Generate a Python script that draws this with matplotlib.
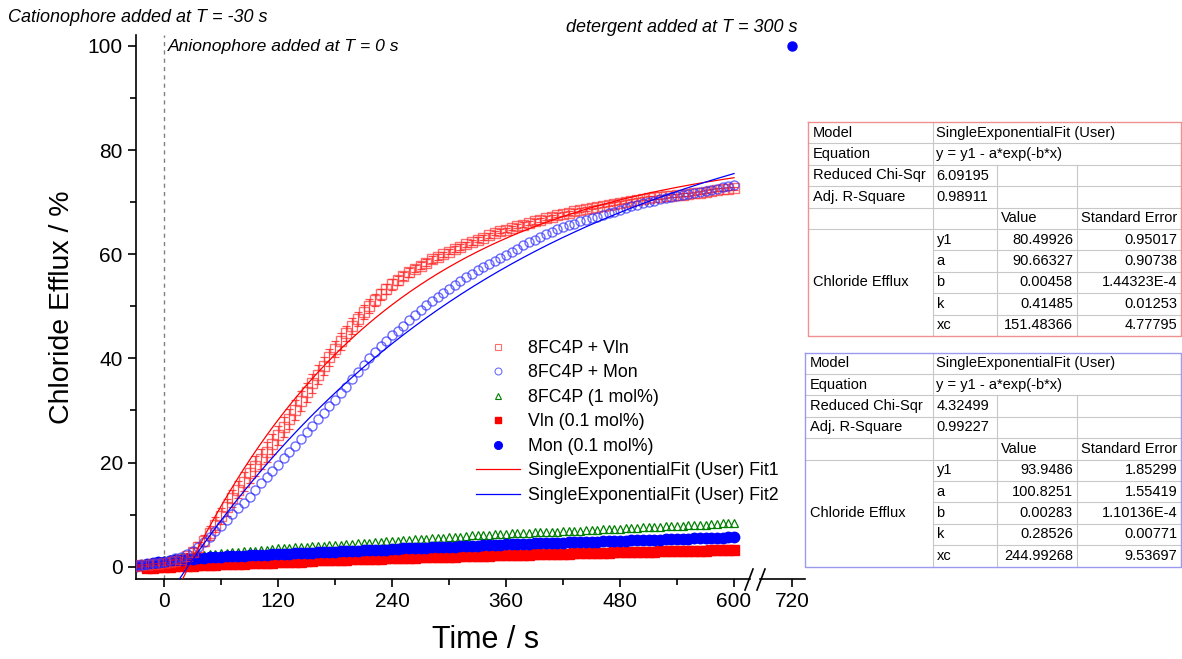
import numpy as np
import matplotlib.pyplot as plt
from matplotlib.lines import Line2D

plt.rcParams['font.family'] = ['Liberation Sans', 'DejaVu Sans']

W, H = 1182, 659

# readings every 6 s, first one at T = -30 s
t_start, t_step = -30, 6

vln_8fc4p = [0.2, 0.3, 0.4, 0.5, 0.6, 0.7, 0.9, 1.1, 1.4, 2.0,
             2.8, 3.8, 5.0, 6.5, 8.1, 9.7, 11.4, 13.1, 14.8, 16.3,
             17.9, 19.3, 20.7, 22.1, 23.6, 25.2, 26.8, 28.4, 30.1, 31.8,
             33.5, 35.2, 36.9, 38.6, 40.2, 41.8, 43.3, 44.8, 46.2, 47.6,
             48.9, 50.1, 51.2, 52.3, 53.3, 54.2, 55.0, 55.8, 56.5, 57.2,
             57.8, 58.4, 59.0, 59.5, 60.0, 60.5, 61.0, 61.4, 61.9, 62.3,
             62.8, 63.2, 63.6, 64.0, 64.4, 64.7, 65.1, 65.4, 65.7, 66.0,
             66.3, 66.6, 66.9, 67.2, 67.5, 67.8, 68.0, 68.3, 68.5, 68.7,
             68.9, 69.1, 69.3, 69.5, 69.7, 69.9, 70.1, 70.3, 70.5, 70.7,
             70.8, 70.9, 71.0, 71.1, 71.2, 71.3, 71.4, 71.5, 71.7, 71.8,
             72.0, 72.2, 72.4, 72.5, 72.6, 72.7]
vln_8fc4p_err = [0.2, 0.2, 0.2, 0.2, 0.2, 0.3, 0.3, 0.4, 0.5, 0.6,
                 0.8, 1.0, 1.1, 1.3, 1.4, 1.5, 1.6, 1.7, 1.7, 1.8,
                 1.8, 1.9, 1.9, 1.9, 1.9, 1.9, 1.9, 1.9, 1.9, 1.9,
                 1.8, 1.8, 1.8, 1.7, 1.7, 1.6, 1.6, 1.5, 1.5, 1.4,
                 1.3, 1.3, 1.2, 1.1, 1.0, 1.0, 0.9, 0.8, 0.8, 0.7,
                 0.7, 0.6, 0.6, 0.6, 0.5, 0.5, 0.5, 0.5, 0.5, 0.5,
                 0.5, 0.5, 0.4, 0.4, 0.4, 0.4, 0.4, 0.4, 0.4, 0.4,
                 0.4, 0.4, 0.4, 0.4, 0.4, 0.4, 0.4, 0.4, 0.3, 0.3,
                 0.3, 0.3, 0.3, 0.3, 0.3, 0.3, 0.3, 0.3, 0.3, 0.3,
                 0.3, 0.3, 0.3, 0.3, 0.3, 0.3, 0.3, 0.3, 0.3, 0.3,
                 0.3, 0.3, 0.3, 0.3, 0.3, 0.3]
mon_8fc4p = [0.3, 0.4, 0.5, 0.7, 0.8, 1.0, 1.3, 1.6, 1.9, 2.4,
             3.0, 3.8, 4.7, 5.7, 6.8, 7.9, 9.0, 10.1, 11.2, 12.3,
             13.4, 14.7, 16.0, 17.2, 18.4, 19.6, 20.8, 22.0, 23.2, 24.5,
             25.8, 27.1, 28.4, 29.6, 30.8, 32.0, 33.3, 34.6, 36.0, 37.4,
             38.8, 40.1, 41.3, 42.4, 43.4, 44.4, 45.3, 46.3, 47.3, 48.3,
             49.3, 50.2, 51.0, 51.8, 52.6, 53.4, 54.1, 54.9, 55.6, 56.3,
             56.9, 57.5, 58.1, 58.7, 59.3, 59.9, 60.5, 61.1, 61.7, 62.3,
             62.8, 63.3, 63.8, 64.3, 64.8, 65.2, 65.6, 65.9, 66.3, 66.6,
             66.9, 67.2, 67.6, 67.9, 68.2, 68.5, 68.8, 69.2, 69.5, 69.8,
             70.1, 70.3, 70.6, 70.8, 71.0, 71.2, 71.4, 71.5, 71.7, 71.9,
             72.1, 72.4, 72.6, 72.9, 73.1, 73.3]
fc4p_1 = [0.3, 0.5, 0.7, 0.9, 1.1, 1.3, 1.4, 1.6, 1.8, 1.9,
          2.1, 2.2, 2.3, 2.4, 2.5, 2.6, 2.7, 2.8, 2.9, 3.0,
          3.0, 3.1, 3.2, 3.3, 3.4, 3.5, 3.5, 3.6, 3.7, 3.8,
          3.8, 3.9, 4.0, 4.0, 4.1, 4.2, 4.2, 4.3, 4.4, 4.5,
          4.5, 4.6, 4.7, 4.8, 4.9, 5.0, 5.0, 5.1, 5.2, 5.3,
          5.3, 5.4, 5.5, 5.6, 5.6, 5.7, 5.8, 5.8, 5.9, 6.0,
          6.0, 6.1, 6.1, 6.2, 6.2, 6.3, 6.4, 6.4, 6.5, 6.5,
          6.6, 6.6, 6.7, 6.7, 6.7, 6.8, 6.8, 6.9, 6.9, 7.0,
          7.1, 7.1, 7.2, 7.2, 7.3, 7.3, 7.4, 7.5, 7.5, 7.6,
          7.6, 7.7, 7.7, 7.8, 7.8, 7.9, 7.9, 8.0, 8.0, 8.1,
          8.1, 8.2, 8.2, 8.3, 8.3, 8.4]
mon_01 = [0.1, 0.3, 0.5, 0.7, 0.9, 1.0, 1.1, 1.2, 1.3, 1.4,
          1.5, 1.6, 1.7, 1.8, 1.8, 1.9, 2.0, 2.0, 2.1, 2.1,
          2.2, 2.2, 2.3, 2.3, 2.4, 2.4, 2.5, 2.5, 2.6, 2.6,
          2.7, 2.7, 2.8, 2.8, 2.9, 2.9, 3.0, 3.0, 3.1, 3.1,
          3.2, 3.2, 3.2, 3.3, 3.3, 3.4, 3.4, 3.5, 3.5, 3.5,
          3.6, 3.6, 3.7, 3.7, 3.8, 3.8, 3.8, 3.9, 3.9, 4.0,
          4.0, 4.1, 4.1, 4.2, 4.2, 4.3, 4.3, 4.3, 4.4, 4.4,
          4.5, 4.5, 4.5, 4.6, 4.6, 4.6, 4.7, 4.7, 4.7, 4.8,
          4.8, 4.8, 4.9, 4.9, 5.0, 5.0, 5.0, 5.1, 5.1, 5.1,
          5.2, 5.2, 5.2, 5.3, 5.3, 5.3, 5.4, 5.4, 5.5, 5.5,
          5.5, 5.6, 5.6, 5.6, 5.7, 5.7]
# Vln (0.1 mol%) readings begin at T = -18 s
vln_01_start = -18
vln_01 = [-0.3, -0.2, -0.1, 0.0, 0.0, 0.1, 0.1, 0.2, 0.2, 0.3,
          0.3, 0.4, 0.4, 0.5, 0.5, 0.6, 0.6, 0.6, 0.7, 0.7,
          0.8, 0.8, 0.8, 0.9, 0.9, 0.9, 1.0, 1.0, 1.1, 1.1,
          1.2, 1.2, 1.2, 1.3, 1.3, 1.3, 1.4, 1.4, 1.4, 1.5,
          1.5, 1.5, 1.6, 1.6, 1.6, 1.7, 1.7, 1.7, 1.8, 1.8,
          1.8, 1.9, 1.9, 1.9, 1.9, 2.0, 2.0, 2.0, 2.1, 2.1,
          2.1, 2.2, 2.2, 2.2, 2.2, 2.3, 2.3, 2.3, 2.4, 2.4,
          2.4, 2.4, 2.5, 2.5, 2.5, 2.6, 2.6, 2.6, 2.6, 2.7,
          2.7, 2.7, 2.8, 2.8, 2.8, 2.8, 2.9, 2.9, 2.9, 2.9,
          3.0, 3.0, 3.0, 3.0, 3.0, 3.1, 3.1, 3.1, 3.1, 3.2,
          3.2, 3.2, 3.2, 3.2]

# detergent point
det_t = 720
det_y = 100

# fit results y = y1 - a*exp(-b*x)
fit_y1 = [80.49926, 93.9486]
fit_a = [90.66327, 100.8251]
fit_b = [0.00458, 0.00283]

legend_labels = ["8FC4P + Vln", "8FC4P + Mon", "8FC4P (1 mol%)", "Vln (0.1 mol%)",
                 "Mon (0.1 mol%)", "SingleExponentialFit (User) Fit1",
                 "SingleExponentialFit (User) Fit2"]

# fit report tables
tab_chi = ["6.09195", "4.32499"]
tab_adjr = ["0.98911", "0.99227"]
tab_params = ["y1", "a", "b", "k", "xc"]
tab_values = [["80.49926", "90.66327", "0.00458", "0.41485", "151.48366"],
              ["93.9486", "100.8251", "0.00283", "0.28526", "244.99268"]]
tab_errors = [["0.95017", "0.90738", "1.44323E-4", "0.01253", "4.77795"],
              ["1.85299", "1.55419", "1.10136E-4", "0.00771", "9.53697"]]


def tt(vals, start):
    return start + t_step * np.arange(len(vals))


def px(x0, y0, x1, y1):
    # rect from pixel box
    return [x0 / W, 1 - y1 / H, (x1 - x0) / W, (y1 - y0) / H]


fig = plt.figure(figsize=(W / 100, H / 100), dpi=100)
ax = fig.add_axes(px(136, 35, 750, 579))
ax2 = fig.add_axes(px(760, 35, 805, 579), sharey=ax)

red, blue, green = '#FF0000', '#0000FF', '#008000'

ax.axvline(0, color='#808080', ls=(0, (3, 3)), lw=1, zorder=1)

ax.plot(tt(vln_01, vln_01_start), vln_01, ls='none', marker='s', color=red, ms=7, zorder=2)
ax.plot(tt(fc4p_1, t_start), fc4p_1, ls='none', marker='^', mfc='none', mec=green,
        mew=0.9, ms=6, zorder=3)
ax.plot(tt(mon_01, t_start), mon_01, ls='none', marker='o', color=blue, ms=7.5, zorder=4)
ax.errorbar(tt(vln_8fc4p, t_start), vln_8fc4p, yerr=vln_8fc4p_err, fmt='none',
            ecolor=red, elinewidth=0.9, capsize=3, capthick=0.9, alpha=0.7, zorder=5)
ax.plot(tt(vln_8fc4p, t_start), vln_8fc4p, ls='none', marker='s', mfc='none', mec='#FF3030',
        mew=1.0, ms=6.5, alpha=0.7, zorder=5)
ax.plot(tt(mon_8fc4p, t_start), mon_8fc4p, ls='none', marker='o', mfc='none', mec='#3030FF',
        mew=1.0, ms=6.5, alpha=0.7, zorder=6)

tfit = np.linspace(-30, 600, 400)
for i, c in enumerate([red, blue]):
    ax.plot(tfit, fit_y1[i] - fit_a[i] * np.exp(-fit_b[i] * tfit), color=c, lw=0.9, zorder=7)

ax2.plot([det_t], [det_y], ls='none', marker='o', color=blue, ms=6.5, clip_on=False)

ax.set_xlim(-29.5, 616.8)
ax2.set_xlim(686.3, 733.7)
ax.set_ylim(-2.36, 102.1)
ax.set_xticks([0, 120, 240, 360, 480, 600])
ax.set_xticks([60, 180, 300, 420, 540], minor=True)
ax.set_yticks([0, 20, 40, 60, 80, 100])
ax.set_yticks([10, 30, 50, 70, 90], minor=True)
ax2.set_xticks([720])

for a in (ax, ax2):
    a.patch.set_visible(False)
    a.spines['top'].set_visible(False)
    a.spines['right'].set_visible(False)
    a.spines['bottom'].set_linewidth(1.2)
    a.tick_params(which='major', length=6, width=1.2, labelsize=15, direction='out')
    a.tick_params(which='minor', length=4, width=1.2, direction='out')
ax.spines['left'].set_linewidth(1.2)
ax2.spines['left'].set_visible(False)
ax2.tick_params(axis='y', which='both', left=False, labelleft=False)

handles = [
    Line2D([], [], ls='none', marker='s', mfc='none', mec='#FF3030', mew=0.8, ms=5, alpha=0.7),
    Line2D([], [], ls='none', marker='o', mfc='none', mec='#3030FF', mew=0.8, ms=5, alpha=0.7),
    Line2D([], [], ls='none', marker='^', mfc='none', mec=green, mew=0.8, ms=5),
    Line2D([], [], ls='none', marker='s', color=red, ms=5),
    Line2D([], [], ls='none', marker='o', color=blue, ms=5.5),
    Line2D([], [], color=red, lw=0.9),
    Line2D([], [], color=blue, lw=0.9),
]
ax.legend(handles, legend_labels, loc='upper left', bbox_to_anchor=(476 / W, 1 - 340 / H),
          bbox_transform=fig.transFigure, frameon=False, fontsize=12.8, borderpad=0,
          borderaxespad=0, handlelength=2.45, handletextpad=0.45, labelspacing=0.42)

# overlay in pixel coordinates for labels, notes, break marks and tables
ov = fig.add_axes([0, 0, 1, 1])
ov.set_xlim(0, W)
ov.set_ylim(H, 0)
ov.axis('off')
ov.patch.set_visible(False)

ov.text(62, 307, "Chloride Efflux / %", rotation=90, ha='center', va='center', fontsize=20.5)
ov.text(486, 640, "Time / s", ha='center', va='center', fontsize=22)
ov.text(8, 18, "Cationophore added at T = -30 s", ha='left', va='center', fontsize=13,
        style='italic')
ov.text(168, 47, "Anionophore added at T = 0 s", ha='left', va='center', fontsize=12.6,
        style='italic')
ov.text(797, 27, "detergent added at T = 300 s", ha='right', va='center', fontsize=13,
        style='italic')

for x0 in (745, 757):
    ov.plot([x0, x0 + 8], [590, 569], color='black', lw=1.2)


def draw_table(left, top, edge, k):
    rh = 21.4
    cols = [left, 932.5, 997, 1077, 1180.5]
    bottom = top + 10 * rh
    grid = dict(color='#C8C8C8', lw=0.8)
    for r in range(1, 10):
        y = top + r * rh
        x0 = left if r <= 5 else cols[1]
        ov.plot([x0, cols[-1]], [y, y], **grid)
    ov.plot([cols[1], cols[1]], [top, bottom], **grid)
    for c in cols[2:4]:
        ov.plot([c, c], [top + 2 * rh, bottom], **grid)
    ov.plot([left, cols[-1], cols[-1], left, left], [top, top, bottom, bottom, top],
            color=edge, lw=1.0)

    def cell(r, x, s, ha='left'):
        ov.text(x, top + (r + 0.5) * rh, s, ha=ha, va='center', fontsize=10.5)

    cell(0, left + 5, "Model")
    cell(1, left + 5, "Equation")
    cell(2, left + 5, "Reduced Chi-Sqr")
    cell(3, left + 5, "Adj. R-Square")
    cell(7, left + 5, "Chloride Efflux")
    cell(0, cols[1] + 4, "SingleExponentialFit (User)")
    cell(1, cols[1] + 4, "y = y1 - a*exp(-b*x)")
    cell(2, cols[1] + 4, tab_chi[k])
    cell(3, cols[1] + 4, tab_adjr[k])
    cell(4, cols[2] + 4, "Value")
    cell(4, cols[3] + 4, "Standard Error")
    for i, p in enumerate(tab_params):
        cell(5 + i, cols[1] + 4, p)
        cell(5 + i, cols[3] - 4, tab_values[k][i], ha='right')
        cell(5 + i, cols[4] - 3, tab_errors[k][i], ha='right')


draw_table(808, 122, '#F09090', 0)
draw_table(805, 352.5, '#9A9AF0', 1)

fig.savefig('out.png', dpi=100)
